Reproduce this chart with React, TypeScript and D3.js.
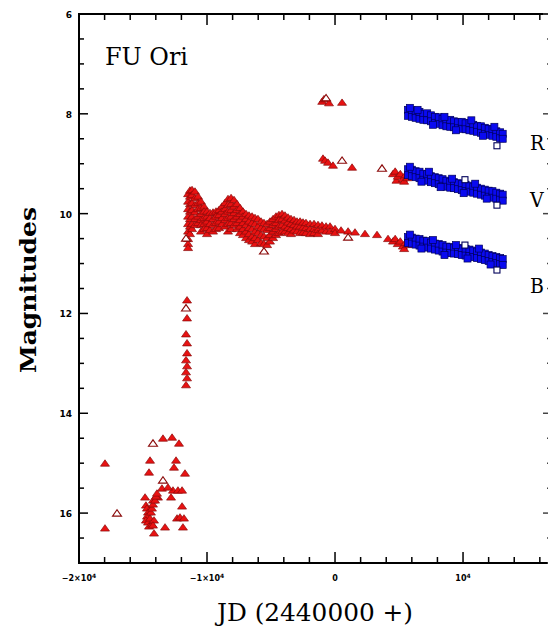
import React from "react";
import * as d3 from "d3";

// ---------- data (JD - 2440000, magnitude) ----------
const xTickValues = [-20000, -10000, 0, 10000];
const xTickMantissa = ["\u22122\u00d710", "\u22121\u00d710", "0", "10"];
const xTickExp = ["4", "4", "", "4"];
const yTickValues = [6, 8, 10, 12, 14, 16];
const bandLabels = ["R", "V", "B"];
const bandLabelMags = [8.72, 9.87, 11.59];

// pre-outburst photographic (red triangles)
const preOutburst: [number, number][] = [
  [-17970, 15.0], [-17970, 16.3],
  [-13440, 14.5], [-12730, 14.48], [-12190, 14.6],
  [-14450, 14.94], [-14530, 15.18], [-12420, 14.94], [-12580, 15.08], [-11720, 15.2],
  [-13520, 15.5], [-13830, 15.68], [-12660, 15.54], [-12270, 15.54], [-11950, 15.54],
  [-14840, 15.68], [-14220, 15.74], [-12810, 15.68], [-13050, 15.48],
  [-14770, 15.84], [-14690, 15.9], [-14610, 15.98], [-14690, 16.06], [-14770, 16.14],
  [-14610, 16.18], [-14450, 16.1], [-14380, 15.98], [-14300, 15.9], [-14220, 15.82],
  [-14060, 15.74], [-13980, 15.66], [-13910, 15.6], [-14530, 16.26], [-14300, 16.22],
  [-14140, 16.14], [-11950, 15.86], [-12340, 16.1], [-12110, 16.08], [-11800, 16.1],
  [-14220, 16.24], [-14140, 16.4], [-13280, 16.28], [-11880, 16.28],
];

// rise of the outburst
const rise: [number, number][] = [
  [-11560, 11.73], [-11560, 12.09], [-11640, 12.41], [-11560, 12.59],
  [-11560, 12.79], [-11640, 12.93], [-11560, 13.05], [-11640, 13.17], [-11560, 13.29], [-11640, 13.43],
];

// outburst plateau, B (columns: JD, magnitudes)
const outburstB: [number, number[]][] = [
  [-11480, [9.6, 9.75, 9.9, 10.05, 10.2, 10.35, 10.5, 10.6, 10.68]],
  [-11330, [9.53, 9.65, 9.8, 9.95, 10.1, 10.25, 10.4]],
  [-11170, [9.52, 9.62, 9.78, 9.92, 10.05, 10.2, 10.3]],
  [-10940, [9.55, 9.68, 9.82, 9.96, 10.1, 10.22]],
  [-10700, [9.65, 9.78, 9.9, 10.05, 10.18]],
  [-10470, [9.75, 9.88, 10.0, 10.12, 10.22, 10.35]],
  [-10230, [9.85, 9.95, 10.08, 10.2, 10.3]],
  [-10000, [9.95, 10.05, 10.15, 10.28, 10.4]],
  [-9770, [9.98, 10.08, 10.2, 10.32]],
  [-9530, [9.97, 10.1, 10.22, 10.35]],
  [-9300, [9.95, 10.05, 10.18, 10.3]],
  [-9060, [9.92, 10.02, 10.15, 10.28]],
  [-8830, [9.85, 9.95, 10.08, 10.2]],
  [-8590, [9.78, 9.9, 10.0, 10.12, 10.25]],
  [-8360, [9.7, 9.82, 9.95, 10.08, 10.2, 10.35]],
  [-8120, [9.68, 9.8, 9.92, 10.05, 10.18, 10.3]],
  [-7890, [9.72, 9.85, 9.98, 10.1, 10.22]],
  [-7660, [9.8, 9.92, 10.05, 10.18, 10.3]],
  [-7420, [9.88, 10.0, 10.12, 10.25, 10.38]],
  [-7190, [9.95, 10.05, 10.18, 10.3, 10.42]],
  [-6950, [10.0, 10.1, 10.22, 10.35, 10.48]],
  [-6720, [10.03, 10.15, 10.28, 10.4, 10.52]],
  [-6480, [10.05, 10.18, 10.3, 10.45, 10.55]],
  [-6250, [10.08, 10.2, 10.35, 10.48, 10.6]],
  [-6020, [10.1, 10.25, 10.38, 10.52]],
  [-5780, [10.15, 10.28, 10.42, 10.58]],
  [-5550, [10.18, 10.3, 10.45, 10.6]],
  [-5310, [10.2, 10.32, 10.48, 10.62]],
  [-5080, [10.15, 10.28, 10.42, 10.55]],
  [-4840, [10.1, 10.22, 10.35, 10.48]],
  [-4610, [10.05, 10.18, 10.3, 10.42]],
  [-4380, [10.02, 10.12, 10.25, 10.38]],
  [-4140, [10.0, 10.1, 10.22, 10.35]],
  [-3910, [10.03, 10.13, 10.25, 10.35]],
  [-3670, [10.07, 10.17, 10.28, 10.38]],
  [-3440, [10.1, 10.2, 10.3, 10.4]],
  [-3200, [10.12, 10.22, 10.33]],
  [-2970, [10.15, 10.25, 10.35]],
  [-2730, [10.15, 10.25, 10.38]],
  [-2500, [10.17, 10.27, 10.37]],
  [-2270, [10.18, 10.28, 10.38]],
  [-1950, [10.2, 10.3, 10.4]],
  [-1640, [10.2, 10.3, 10.38]],
  [-1330, [10.22, 10.32, 10.4]],
  [-1020, [10.23, 10.33]],
  [-700, [10.25, 10.35]],
  [-390, [10.25, 10.35]],
  [0, [10.3, 10.38]],
  [470, [10.33]],
  [1020, [10.35]],
  [1560, [10.37]],
  [2340, [10.4]],
  [3280, [10.42]],
  [4140, [10.5]],
  [4530, [10.55]],
  [4700, [10.5]],
  [4900, [10.6]],
  [5100, [10.55]],
  [5300, [10.65]],
  [5400, [10.7]],
  [5500, [10.58]],
  [5650, [10.62]],
];

const redV: [number, number][] = [
  [-940, 8.89], [-780, 8.93], [-550, 8.97], [-160, 9.03], [1330, 9.07],
  [4530, 9.2], [4700, 9.15], [4800, 9.33], [4900, 9.25], [5100, 9.2],
  [5300, 9.3], [5400, 9.35], [5500, 9.22], [5650, 9.28],
];
const redR: [number, number][] = [
  [-1000, 7.75], [-860, 7.7], [-470, 7.78], [550, 7.77],
];
const redOpen: [number, number][] = [
  [-17030, 16.0], [-14220, 14.6], [-13440, 15.34], [-11640, 11.89], [-5550, 10.75],
  [-700, 7.68], [550, 8.93], [3670, 9.09], [1020, 10.47], [-11640, 10.49],
];

// photoelectric (blue squares)
const blueR: [number, number][] = [
  [5700, 7.92], [5700, 8.04], [6000, 7.93], [6000, 8.06], [6300, 7.97], [6300, 8.08],
  [6600, 7.96], [6600, 8.1], [6900, 8.0], [6900, 8.12], [7200, 7.99], [7200, 8.13],
  [7500, 8.03], [7500, 8.15], [7800, 8.06], [7800, 8.18], [8100, 8.07], [8100, 8.2],
  [8400, 8.1], [8400, 8.23], [8700, 8.13], [8700, 8.25], [9000, 8.12], [9000, 8.26],
  [9300, 8.15], [9300, 8.27], [9600, 8.17], [9600, 8.29], [9900, 8.16], [9900, 8.3],
  [10200, 8.19], [10200, 8.31], [10500, 8.18], [10500, 8.33], [10800, 8.22], [10800, 8.34],
  [11100, 8.24], [11100, 8.36], [11400, 8.25], [11400, 8.38], [11700, 8.28], [11700, 8.4],
  [12000, 8.3], [12000, 8.42], [12300, 8.31], [12300, 8.44], [12600, 8.35], [12600, 8.46],
  [12900, 8.37], [12900, 8.49], [13100, 8.4], [13100, 8.5],
  [5850, 7.88], [6450, 7.92], [7650, 8.22], [8550, 8.06], [9450, 8.33], [10650, 8.13],
  [11550, 8.44], [12450, 8.26],
];
const blueV: [number, number][] = [
  [5700, 9.11], [5700, 9.23], [6000, 9.12], [6000, 9.25], [6300, 9.15], [6300, 9.27],
  [6600, 9.16], [6600, 9.29], [6900, 9.2], [6900, 9.32], [7200, 9.21], [7200, 9.34],
  [7500, 9.25], [7500, 9.37], [7800, 9.27], [7800, 9.39], [8100, 9.29], [8100, 9.41],
  [8400, 9.31], [8400, 9.44], [8700, 9.34], [8700, 9.46], [9000, 9.36], [9000, 9.48],
  [9300, 9.37], [9300, 9.49], [9600, 9.39], [9600, 9.51], [9900, 9.41], [9900, 9.53],
  [10200, 9.42], [10200, 9.55], [10500, 9.44], [10500, 9.56], [10800, 9.46], [10800, 9.58],
  [11100, 9.48], [11100, 9.6], [11400, 9.5], [11400, 9.62], [11700, 9.52], [11700, 9.64],
  [12000, 9.54], [12000, 9.66], [12300, 9.55], [12300, 9.68], [12600, 9.58], [12600, 9.7],
  [12900, 9.6], [12900, 9.72], [13100, 9.62], [13100, 9.74],
  [5850, 9.06], [6750, 9.36], [7350, 9.16], [8250, 9.47], [9150, 9.3], [10050, 9.59],
  [10950, 9.4], [11850, 9.7],
];
const blueB: [number, number][] = [
  [5700, 10.47], [5700, 10.59], [6000, 10.48], [6000, 10.6], [6300, 10.5], [6300, 10.62],
  [6600, 10.51], [6600, 10.64], [6900, 10.54], [6900, 10.66], [7200, 10.55], [7200, 10.68],
  [7500, 10.58], [7500, 10.7], [7800, 10.6], [7800, 10.72], [8100, 10.61], [8100, 10.74],
  [8400, 10.63], [8400, 10.76], [8700, 10.66], [8700, 10.78], [9000, 10.67], [9000, 10.79],
  [9300, 10.68], [9300, 10.8], [9600, 10.69], [9600, 10.81], [9900, 10.7], [9900, 10.83],
  [10200, 10.71], [10200, 10.84], [10500, 10.72], [10500, 10.85], [10800, 10.74], [10800, 10.87],
  [11100, 10.76], [11100, 10.89], [11400, 10.78], [11400, 10.91], [11700, 10.8], [11700, 10.93],
  [12000, 10.83], [12000, 10.95], [12300, 10.85], [12300, 10.97], [12600, 10.87], [12600, 10.99],
  [12900, 10.89], [12900, 11.01], [13100, 10.91], [13100, 11.03],
  [5850, 10.42], [6750, 10.7], [7650, 10.53], [8550, 10.83], [9450, 10.63], [10350, 10.9],
  [11250, 10.7], [12150, 11.02],
];
const blueOpen: [number, number][] = [
  [12650, 8.64], [12650, 9.83], [10150, 9.32], [12650, 11.13], [10150, 10.63],
];

// ---------- layout ----------
const W = 548, H = 629;
const x = d3.scaleLinear().domain([-20000, 16950]).range([79, 552]);
const y = d3.scaleLinear().domain([6, 17]).range([14, 563]);
const xMinor = d3.range(-20000, 16951, 2000);
const yMinor = d3.range(6, 17.001, 0.5);

const RED = "#e81212";
const RED_EDGE = "#8a0a0a";
const BLUE = "#0a0af0";
const BLUE_EDGE = "#00005a";
const tri = "M-4.5,3L4.5,3L0,-3.4Z";
const serif = "'DejaVu Serif Condensed','DejaVu Serif',serif";

export default function App() {
  const redFilled: [number, number][] = [
    ...preOutburst,
    ...rise,
    ...outburstB.flatMap(([jd, ms]) => ms.map((m) => [jd, m] as [number, number])),
    ...redV,
    ...redR,
  ];
  const blues = [...blueR, ...blueV, ...blueB];
  return (
    <svg width={W} height={H} style={{ position: "absolute", left: 0, top: 0, background: "#fff" }}>
      {/* markers */}
      <g>
        {redFilled.map(([jd, m], i) => (
          <path key={"r" + i} d={tri} transform={`translate(${x(jd)},${y(m)})`} fill={RED} stroke={RED_EDGE} strokeWidth={0.7} />
        ))}
        {redOpen.map(([jd, m], i) => (
          <path key={"ro" + i} d={tri} transform={`translate(${x(jd)},${y(m)})`} fill="#fff" stroke={RED_EDGE} strokeWidth={1.1} />
        ))}
        {blues.map(([jd, m], i) => (
          <rect key={"b" + i} x={x(jd) - 3.5} y={y(m) - 3.5} width={7} height={7} fill={BLUE} stroke={BLUE_EDGE} strokeWidth={0.7} />
        ))}
        {blueOpen.map(([jd, m], i) => (
          <rect key={"bo" + i} x={x(jd) - 3} y={y(m) - 3} width={6} height={6} fill="#fff" stroke={BLUE_EDGE} strokeWidth={1.1} />
        ))}
      </g>

      {/* frame */}
      <rect x={79} y={14} width={552 - 79} height={563 - 14} fill="none" stroke="#000" strokeWidth={2} />

      {/* x ticks (bottom & top) */}
      {xMinor.map((v) => {
        const major = v % 10000 === 0;
        const len = major ? 11 : 6;
        const px = x(v);
        return (
          <g key={"xt" + v} stroke="#000" strokeWidth={1.5}>
            <line x1={px} x2={px} y1={563} y2={563 - len} />
            <line x1={px} x2={px} y1={14} y2={14 + len} />
          </g>
        );
      })}
      {/* y ticks (left & right) */}
      {yMinor.map((v) => {
        const major = Math.abs(v % 2) < 1e-9;
        const len = major ? 9 : 5;
        const py = y(v);
        return (
          <g key={"yt" + v} stroke="#000" strokeWidth={1.5}>
            <line x1={79} x2={79 + len} y1={py} y2={py} />
            <line x1={552} x2={552 - len} y1={py} y2={py} stroke="#444" />
          </g>
        );
      })}

      {/* tick labels */}
      {xTickValues.map((v, i) => (
        <text key={"xl" + v} x={x(v)} y={581} textAnchor="middle" fontFamily="'DejaVu Sans',sans-serif" fontWeight="bold" fontSize={8}>
          {xTickMantissa[i]}
          {xTickExp[i] && (
            <tspan dy={-3} fontSize={6}>{xTickExp[i]}</tspan>
          )}
        </text>
      ))}
      {yTickValues.map((v) => (
        <text key={"yl" + v} x={72} y={y(v) + 4} textAnchor="end" fontFamily="'DejaVu Sans',sans-serif" fontWeight="bold" fontSize={9}>
          {v}
        </text>
      ))}

      {/* titles */}
      <text x={105} y={65} fontFamily={serif} fontSize={25} textLength={83} lengthAdjust="spacingAndGlyphs">
        FU Ori
      </text>
      <text x={217} y={621} fontFamily={serif} fontSize={24} textLength={196} lengthAdjust="spacingAndGlyphs">
        JD (2440000 +)
      </text>
      <text
        transform={`translate(36,290) rotate(-90)`}
        textAnchor="middle"
        fontFamily={serif}
        fontWeight="bold"
        fontSize={22}
        textLength={166}
        lengthAdjust="spacingAndGlyphs"
      >
        Magnitudes
      </text>
      {bandLabels.map((t, i) => (
        <text key={t} x={530} y={y(bandLabelMags[i])} fontFamily={serif} fontSize={21}>
          {t}
        </text>
      ))}
    </svg>
  );
}
